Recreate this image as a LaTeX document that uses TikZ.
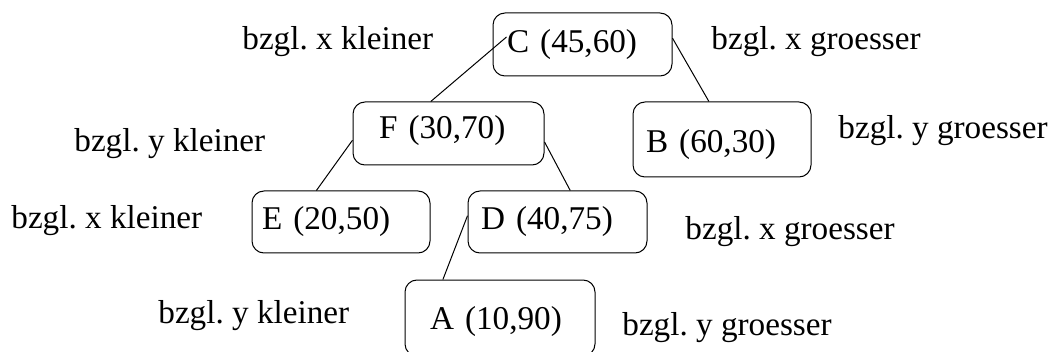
\documentclass[tikz,border=0pt]{standalone}
\usepackage{fontspec}
\setmainfont{Liberation Serif}
\frenchspacing
\begin{document}
\begin{tikzpicture}[x=0.5pt,y=-0.5pt,
    every node/.style={font=\fontsize{16.6}{20}\selectfont},
    keybox/.style={draw, line width=0.5pt, rounded corners=6pt, align=left, inner xsep=0pt},
    side/.style={anchor=base west, inner sep=0pt}]
    % frame
    \useasboundingbox (0,0) rectangle (1054,352);
    % key boxes
    \node [keybox, minimum width=89.5pt, minimum height=31.5pt, text width=75.5pt] (C) at (582.5,44.5) {C (45,60)};
    \node [keybox, minimum width=95.5pt, minimum height=31.5pt, text width=69.5pt, text depth=6.7pt] (F) at (448.5,133.5) {F (30,70)};
    \node [keybox, minimum width=89pt, minimum height=37.5pt, text width=76pt, text height=16.4pt] (B) at (722,139.5) {B (60,30)};
    \node [keybox, minimum width=89pt, minimum height=31pt, text width=79pt] (E) at (341,222) {E (20,50)};
    \node [keybox, minimum width=89.5pt, minimum height=31pt, text width=76.5pt] (D) at (557.5,222) {D (40,75)};
    \node [keybox, minimum width=95pt, minimum height=38pt, text width=70pt, text height=14.9pt] (A) at (500,318) {A (10,90)};
    % side labels
    \node [side] (Cl) at (242,50) {bzgl. x kleiner};
    \node [side] (Cr) at (711,50) {bzgl. x groesser};
    \node [side] (Fl) at (74,152) {bzgl. y kleiner};
    \node [side] (Br) at (838,139) {bzgl. y groesser};
    \node [side] (El) at (11,228) {bzgl. x kleiner};
    \node [side] (Dr) at (685,240) {bzgl. x groesser};
    \node [side] (Al) at (158,323) {bzgl. y kleiner};
    \node [side] (Ar) at (622,335) {bzgl. y groesser};
    % tree edges
    \draw [line width=0.5pt] ([xshift=7pt,yshift=3.75pt]C.west) -- (F.119);
    \draw [line width=0.5pt] (C.4) -- (B.109);
    \draw [line width=0.5pt] (F.184) -- (E.128);
    \draw [line width=0.5pt] (F.355) -- (D.68);
    \draw [line width=0.5pt] (D.176) -- (A.146);
\end{tikzpicture}
\end{document}
